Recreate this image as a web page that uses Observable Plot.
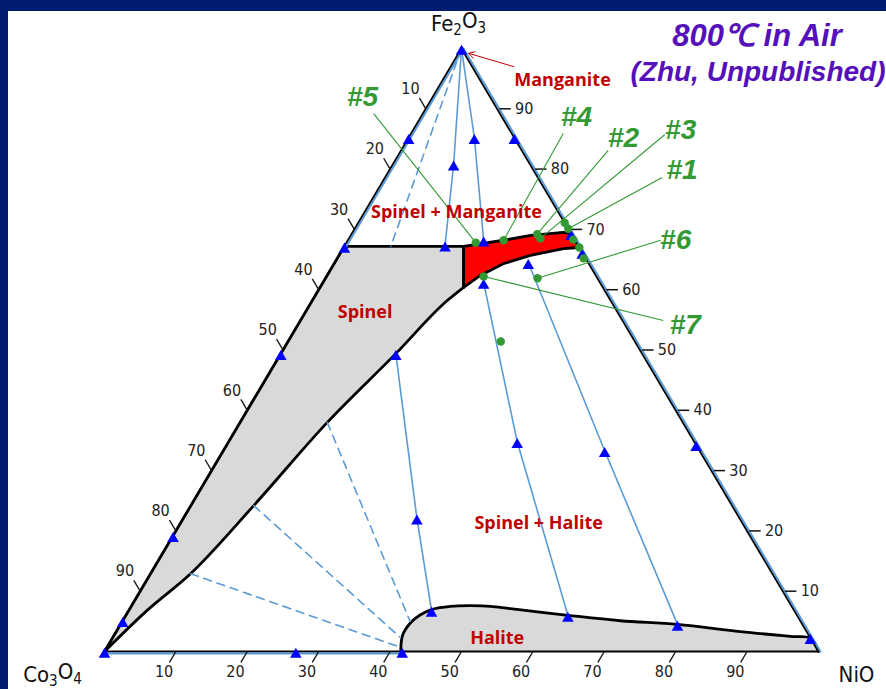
<!DOCTYPE html>
<html><head><meta charset="utf-8">
<script src="https://cdn.jsdelivr.net/npm/d3@7"></script>
<script src="https://cdn.jsdelivr.net/npm/@observablehq/plot@0.6"></script>
<style>
html,body{margin:0;padding:0;}
body{background:#001c6e;width:886px;height:689px;overflow:hidden;position:relative;}
#panel{position:absolute;left:8px;top:11px;width:878px;height:678px;background:#fff;}
.ttl{position:absolute;text-align:center;font-family:"Liberation Sans",Arial,sans-serif;font-weight:bold;font-style:italic;line-height:1;color:#5510bb;white-space:nowrap;}
</style>
</head><body>
<div id="panel"></div>
<div class="ttl" style="top:20px;left:647px;width:220px;font-size:31px;">800℃ in Air</div>
<div class="ttl" style="top:58px;left:630px;width:256px;font-size:28px;">(Zhu, Unpublished)</div>
<script>
// All compositions are [NiO %, Fe2O3 %]; Co3O4 % = 100 - NiO - Fe2O3
const vertexNames = ["Co3O4", "NiO", "Fe2O3"];
const vertexComps = [[0, 0], [100, 0], [0, 100]];
const axisTicks = [10, 20, 30, 40, 50, 60, 70, 80, 90];

// single-phase spinel field: left edge part and curved lower boundary
const spinelUpper = [[0,0],[0,67.2],[16.7,67.2],[20.1,60.4]];
const spinelLowerCurve = [[20.1,60.4],[18.9,58.2],[16.1,49.4],[12.2,38.0],[8.8,24.2],[5.6,12.9],[2.6,6.9],[0,0]];
const redRegion = [[16.7,67.2],[21.8,68.2],[25.2,69.0],[29.5,69.5],[30.8,69.2],[33.0,67.0],[30.9,66.8],[26.8,65.7],[23.7,64.3],[21.5,62.4],[20.1,60.4],[16.7,67.2]];
const haliteCurve = [[41.5,0],[40.4,2.7],[40.5,4.8],[41.2,6.1],[42.4,7.0],[44.7,7.5],[47.5,7.6],[50.3,7.5],[53.3,7.1],[61.9,6.0],[69.7,5.1],[78.0,4.5],[87.4,3.3],[94.8,2.5],[97.8,2.2],[100,0]];

const tieLines = [
  [[0,100],[8.5,80.8],[14.0,67.4]],
  [[0,100],[9.2,85.2],[19.0,68.2]],
  [[16.1,49.4],[32.7,22.1],[42.4,6.8]],
  [[22.5,61.2],[40.4,34.8],[61.9,6.0]],
  [[27.1,64.5],[53.4,33.3],[78.0,4.5]]
];
const edgeTieLines = [
  [[0,67.2],[0,100]],
  [[100,0],[0,100]],
  [[0,0],[41.5,0]]
];
const dashedTieLines = [
  [[0,100],[6.5,67.2]],
  [[12.2,38.0],[40.3,5.0]],
  [[8.8,24.2],[40.3,2.3]],
  [[5.6,12.9],[41.1,0.7]]
];
const tieMarkers = [[0,100],[0,85.2],[14.8,85.2],[9.2,85.2],[8.5,80.8],[0,67.2],[14.0,67.4],[19.0,68.2],[30.7,69.3],[33.8,66.2],[27.1,64.5],[22.5,61.2],[0,49.4],[16.1,49.4],[65.7,34.3],[40.4,34.8],[53.4,33.3],[32.7,22.1],[0,19.2],[0,5.1],[42.4,6.8],[61.9,6.0],[78.0,4.5],[97.7,2.3],[0,0],[26.8,0],[41.7,0]];

const samples = [[18.1,67.8],[21.8,68.2],[26.0,69.2],[26.8,68.5],[28.9,71.1],[29.9,70.1],[31.5,68.3],[33.0,67.0],[34.5,65.2],[29.7,61.9],[22.0,62.2],[29.8,51.4]];
const sampleNames = ["#5", "#4", "#2", "#3", "#1", "#6", "#7"];
const sampleTextAt = [[-9.8,91.9],[21.8,88.6],[30.1,85.2],[37.5,86.4],[41.0,79.8],[45.9,68.2],[54.3,54.1]];
const sampleLeaderFrom = [[-6.9,89.2],[21.3,85.9],[29.0,83.1],[35.6,85.7],[38.8,78.6],[43.8,68.2],[50.8,54.9]];
const sampleLeaderTo = [[18.1,67.8],[21.8,68.2],[26.0,69.2],[26.8,68.5],[29.9,70.1],[29.7,61.9],[22.0,62.2]];

const phaseNames = ["Spinel + Manganite", "Spinel", "Spinel + Halite", "Halite", "Manganite"];
const phaseAt = [[12.9,72.8],[8.4,56.2],[50.2,21.2],[53.9,2.2],[16.8,94.7]];
const manganiteArrow = [[8.8,97.0],[1.4,99.2]];

// ternary -> plot coordinates
const T = (n, f) => ({x: (n + f / 2) / 100, y: f / 100});
const pts = (arr) => arr.map(([n, f]) => T(n, f));
const multi = (lines) => lines.flatMap((l, i) => l.map(([n, f]) => ({...T(n, f), z: i})));

const leftTicks = axisTicks.map(c => {const a = T(0, 100 - c), b = T(-1.8, 100 - c + 1.8), l = T(-3.3, 100 - c + 3.3); return {x1: a.x, y1: a.y, x2: b.x, y2: b.y, lx: l.x, ly: l.y, t: String(c)};});
const bottomTicks = axisTicks.map(n => {const a = T(n, 0), b = T(n, -1.8), l = T(n, -3.3); return {x1: a.x, y1: a.y, x2: b.x, y2: b.y, lx: l.x, ly: l.y, t: String(n)};});
const rightTicks = axisTicks.map(f => {const a = T(100 - f + 0.3, f), b = T(100 - f + 1.9, f), l = T(100 - f + 2.5, f); return {x1: a.x, y1: a.y, x2: b.x, y2: b.y, lx: l.x, ly: l.y, t: String(f)};});

const outline = pts([...vertexComps, vertexComps[0]]);
const leaders = sampleNames.map((s, i) => {const a = T(...sampleLeaderFrom[i]), b = T(...sampleLeaderTo[i]); return {x1: a.x, y1: a.y, x2: b.x, y2: b.y};});
const sampleText = sampleNames.map((s, i) => ({...T(...sampleTextAt[i]), t: s}));
const phaseText = phaseNames.map((s, i) => ({...T(...phaseAt[i]), t: s}));
const arrowA = T(...manganiteArrow[0]), arrowB = T(...manganiteArrow[1]);
const vtx = vertexNames.map((s, i) => ({...T(...vertexComps[i]), t: s}));

const BLUE = "#5b9bd5", GREEN = "#339933", DARKRED = "#c00000";
const tickFont = '"DejaVu Sans Condensed", "DejaVu Sans", sans-serif';
const boldFont = '"Open Sans", Lato, sans-serif';
const vFont = '"DejaVu Sans Condensed", "DejaVu Sans", sans-serif';

const chart = Plot.plot({
  width: 878, height: 678,
  marginLeft: 96, marginRight: 68, marginTop: 37, marginBottom: 38,
  x: {domain: [0, 1], axis: null},
  y: {domain: [0, 1], axis: null},
  style: {background: "transparent", overflow: "visible"},
  marks: [
    // fills
    Plot.line(pts([...spinelUpper, ...spinelLowerCurve]), {x: "x", y: "y", fill: "#d9d9d9", stroke: "none"}),
    Plot.line(pts(haliteCurve), {x: "x", y: "y", fill: "#d9d9d9", stroke: "none", curve: "catmull-rom"}),
    Plot.line(pts(redRegion), {x: "x", y: "y", fill: "#ff0000", stroke: "none"}),
    // phase boundaries
    Plot.line(pts(spinelUpper), {x: "x", y: "y", stroke: "#000", strokeWidth: 2.8}),
    Plot.line(pts(spinelLowerCurve), {x: "x", y: "y", stroke: "#000", strokeWidth: 2.8, curve: "monotone-x"}),
    Plot.line(pts(haliteCurve), {x: "x", y: "y", stroke: "#000", strokeWidth: 2.8, curve: "catmull-rom"}),
    Plot.line(pts(redRegion), {x: "x", y: "y", stroke: "#000", strokeWidth: 2.8}),
    Plot.line(outline, {x: "x", y: "y", stroke: "#000", strokeWidth: 2}),
    Plot.line(multi([edgeTieLines[0]]), {x: "x", y: "y", z: "z", stroke: BLUE, strokeWidth: 2, dx: 2}),
    Plot.line(multi([edgeTieLines[1]]), {x: "x", y: "y", z: "z", stroke: BLUE, strokeWidth: 2, dx: 2}),
    Plot.line(multi([edgeTieLines[2]]), {x: "x", y: "y", z: "z", stroke: BLUE, strokeWidth: 2, dy: 2}),
    Plot.line(multi(tieLines), {x: "x", y: "y", z: "z", stroke: BLUE, strokeWidth: 1.6}),
    Plot.line(multi(dashedTieLines), {x: "x", y: "y", z: "z", stroke: BLUE, strokeWidth: 1.6, strokeDasharray: "8,6"}),
    // axes
    Plot.link(leftTicks, {x1: "x1", y1: "y1", x2: "x2", y2: "y2", stroke: "#111", strokeWidth: 1.3}),
    Plot.link(bottomTicks, {x1: "x1", y1: "y1", x2: "x2", y2: "y2", stroke: "#111", strokeWidth: 1.3}),
    Plot.link(rightTicks, {x1: "x1", y1: "y1", x2: "x2", y2: "y2", stroke: "#111", strokeWidth: 1.5}),
    Plot.text(leftTicks, {x: "lx", y: "ly", text: "t", dx: -3.5, fontSize: 16, fontFamily: tickFont, fill: "#222"}),
    Plot.text(bottomTicks, {x: "lx", y: "ly", text: "t", fontSize: 16, fontFamily: tickFont, fill: "#222"}),
    Plot.text(rightTicks, {x: "lx", y: "ly", text: "t", textAnchor: "start", fontSize: 16, fontFamily: tickFont, fill: "#222"}),
    // data
    Plot.dot(pts(tieMarkers), {x: "x", y: "y", symbol: "triangle", r: 4.3, fill: "#0000ff", stroke: "none", dy: 3}),
    Plot.link(leaders, {x1: "x1", y1: "y1", x2: "x2", y2: "y2", stroke: GREEN, strokeWidth: 1.1}),
    Plot.dot(pts(samples), {x: "x", y: "y", r: 4.2, fill: GREEN, stroke: "none"}),
    Plot.arrow([0], {x1: () => arrowA.x, y1: () => arrowA.y, x2: () => arrowB.x, y2: () => arrowB.y, stroke: DARKRED, strokeWidth: 1, headLength: 10, bend: 0}),
    // labels
    Plot.text(sampleText, {x: "x", y: "y", text: "t", fontSize: 28, fontWeight: "bold", fontStyle: "italic", fontFamily: '"Liberation Sans", Arial, sans-serif', fill: GREEN}),
    Plot.text(phaseText, {x: "x", y: "y", text: "t", fontSize: 18, fontWeight: "bold", fontFamily: boldFont, fill: DARKRED}),
    Plot.text([vtx[0]], {x: "x", y: "y", text: "t", dx: -52, dy: 23, fontSize: 22, fontFamily: vFont, fill: "#111", className: "vlabel"}),
    Plot.text([vtx[1]], {x: "x", y: "y", text: "t", dx: 38, dy: 23, fontSize: 22, fontFamily: vFont, fill: "#111", className: "vlabel"}),
    Plot.text([vtx[2]], {x: "x", y: "y", text: "t", dx: -3, dy: -25, fontSize: 22, fontFamily: vFont, fill: "#111", className: "vlabel"})
  ]
});
// render digits in chemical formulas as subscripts
d3.select(chart).selectAll("g.vlabel text").each(function () {
  const s = this.textContent;
  const el = d3.select(this);
  el.text(null);
  let sub = false;
  for (const ch of s) {
    const isDigit = /[0-9]/.test(ch);
    const ts = el.append("tspan").text(ch);
    if (isDigit && !sub) { ts.attr("dy", "0.3em").attr("font-size", "15px"); sub = true; }
    else if (isDigit) { ts.attr("font-size", "15px"); }
    else if (sub) { ts.attr("dy", "-0.3em"); sub = false; }
  }
});
document.getElementById("panel").appendChild(chart);
</script>
</body></html>
